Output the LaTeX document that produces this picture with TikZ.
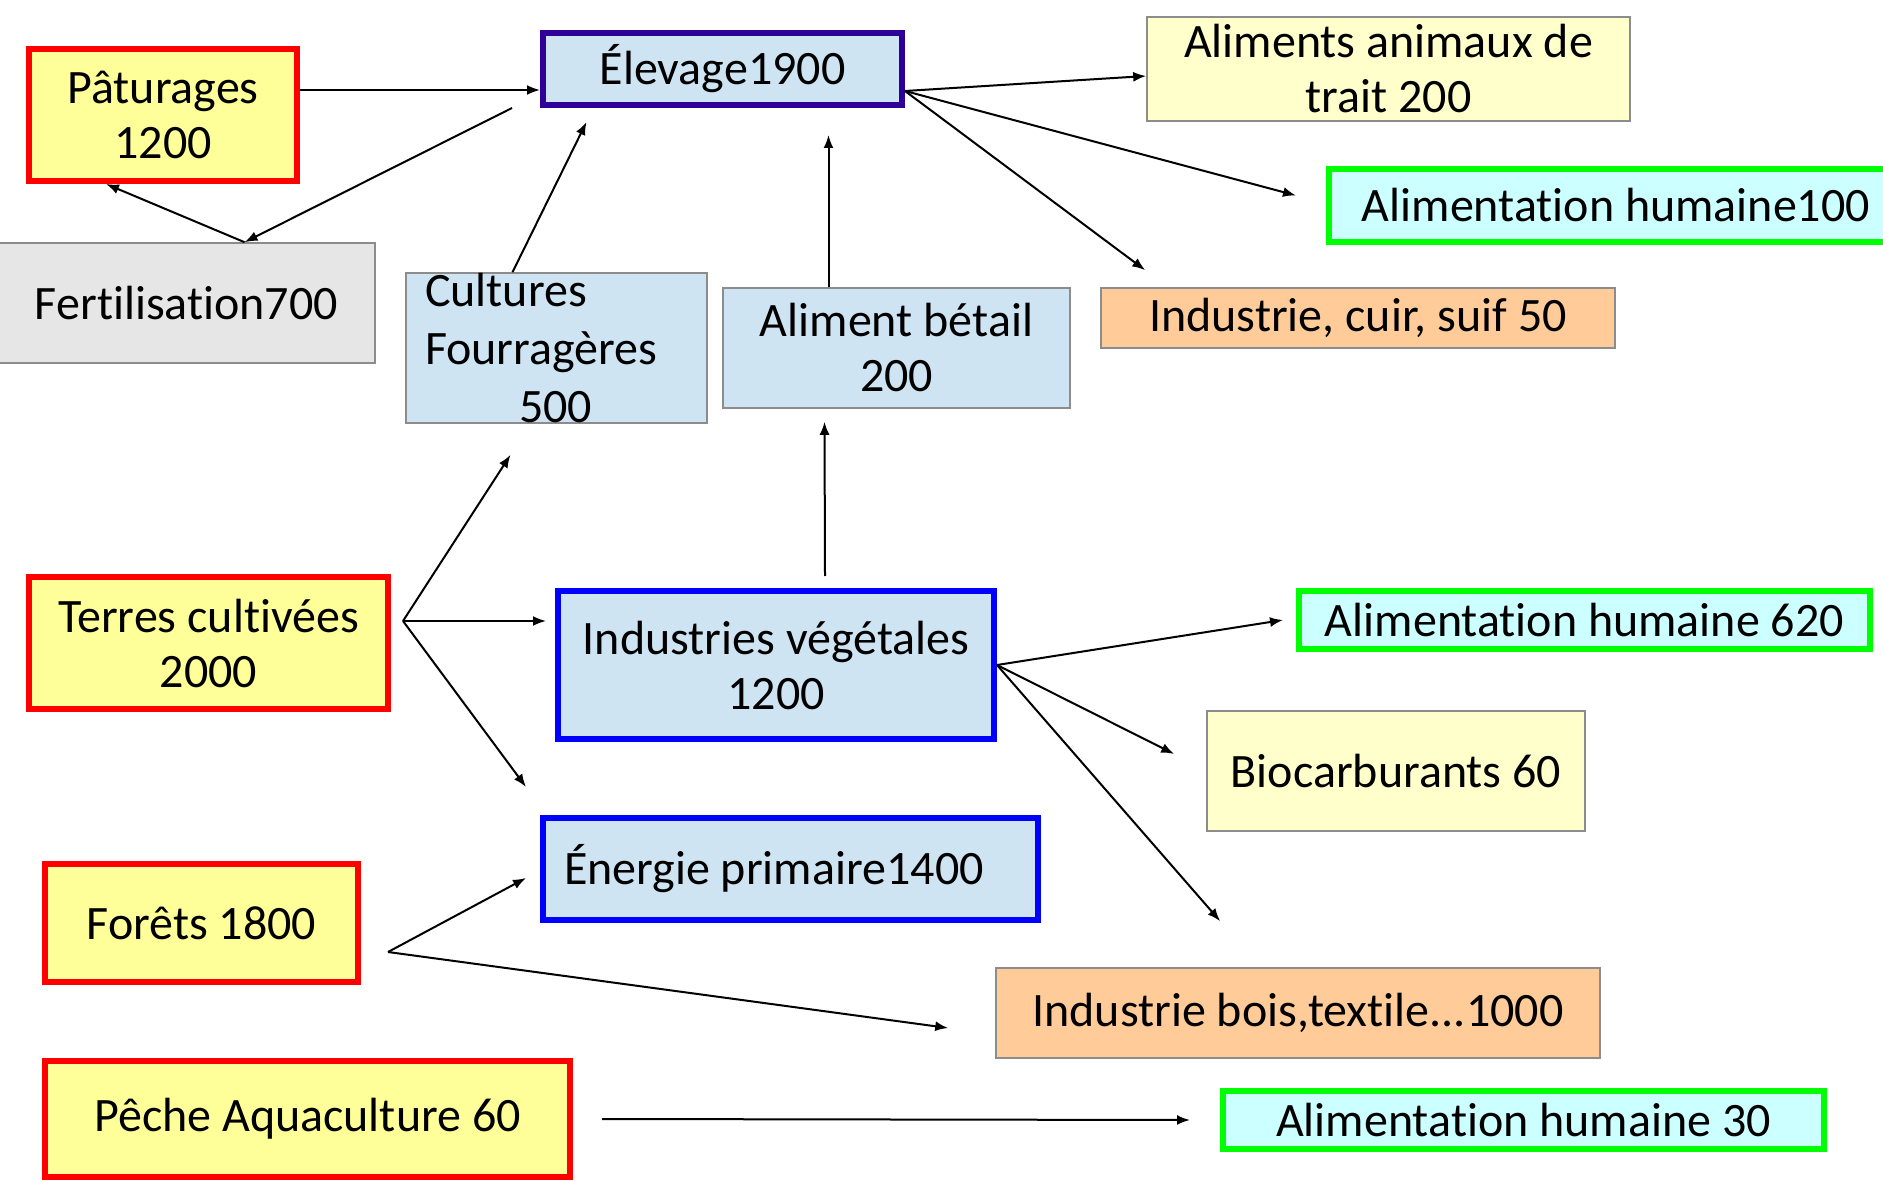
\documentclass[tikz,border=0pt]{standalone}
\usepackage{fontspec}
\setmainfont{Carlito}[Ligatures={NoCommon,NoContextual}]
\usetikzlibrary{arrows.meta}
\definecolor{rouge}{HTML}{FF0000}
\definecolor{jaune}{HTML}{FFFF99}
\definecolor{jaunepale}{HTML}{FFFFCC}
\definecolor{indigo}{HTML}{2E0099}
\definecolor{bleu}{HTML}{0000FF}
\definecolor{bleupale}{HTML}{CFE4F3}
\definecolor{vert}{HTML}{00FF00}
\definecolor{cyanpale}{HTML}{CCFFFF}
\definecolor{orange}{HTML}{FFCC99}
\definecolor{grisbord}{HTML}{8C8C8C}
\definecolor{grisfond}{HTML}{E6E6E6}

\begin{document}
\begin{tikzpicture}[x=0.5pt,y=-0.5pt,>={Latex[length=6.5pt,width=5pt]},
  box/.style={draw, inner sep=0pt, align=center, text=black,
    font=\fontsize{24}{27.5}\selectfont},
  ressource/.style={box, draw=rouge, line width=3pt, fill=jaune},
  filiere/.style={box, draw=bleu, line width=3pt, fill=bleupale},
  usage/.style={box, draw=grisbord, line width=0.8pt},
  humain/.style={box, draw=vert, line width=3pt, fill=cyanpale},
  flux/.style={->, line width=1pt}]
\useasboundingbox (0,0) rectangle (1883,1181);

% ressources
\node [ressource, minimum width=134pt, minimum height=66pt] (pat) at (163,115) {Pâturages\\1200};
\node [ressource, minimum width=179.5pt, minimum height=66pt] (terres) at (208.5,643) {Terres cultivées\\2000};
\node [ressource, minimum width=156.5pt, minimum height=59pt] (forets) at (201.5,923) {Forêts 1800};
\node [ressource, minimum width=262.5pt, minimum height=58pt] (peche) at (307.5,1119) {Pêche Aquaculture 60};

% filieres
\node [filiere, draw=indigo, minimum width=179.5pt, minimum height=36pt] (elev) at (722.5,69) {Élevage1900};
\node [filiere, minimum width=218pt, minimum height=74pt] (indveg) at (776,665) {Industries végétales\\1200};
\node [filiere, align=flush left, text width=226.5pt, inner xsep=10.5pt, minimum height=51pt] (energ) at (790.5,869) {Énergie primaire1400};
\node [usage, fill=grisfond, minimum width=188.5pt, minimum height=60pt] (fert) at (186.5,303) {Fertilisation700};
\node [usage, fill=bleupale, align=flush left, text width=131.5pt, inner xsep=9.5pt, minimum height=75pt,
  font=\fontsize{24}{28.8}\selectfont] (cult) at (556.5,348) {Cultures\\Fourragères\\\hspace*{47pt}500};
\node [usage, fill=bleupale, minimum width=173.5pt, minimum height=60pt] (alim) at (896.5,348) {Aliment bétail\\200};

% usages
\node [usage, fill=jaunepale, minimum width=241.5pt, minimum height=52pt] (anim) at (1388.5,69) {Aliments animaux de\\trait 200};
\node [humain, minimum width=287pt, minimum height=36.5pt] (ah100) at (1616,205.5) {Alimentation humaine100};
\node [usage, fill=orange, minimum width=257pt, minimum height=30pt] (cuir) at (1358,318) {Industrie, cuir, suif 50};
\node [humain, minimum width=285.5pt, minimum height=29pt] (ah620) at (1584.5,620) {Alimentation humaine 620};
\node [usage, fill=jaunepale, minimum width=189pt, minimum height=60pt] (bio) at (1396,771) {Biocarburants 60};
\node [usage, fill=orange, minimum width=302pt, minimum height=45pt] (bois) at (1298,1013) {Industrie bois,textile...1000};
\node [humain, minimum width=300.5pt, minimum height=29pt] (ah30) at (1523.5,1120) {Alimentation humaine 30};

% fourches
\coordinate (fk) at ([xshift=29pt]fert.north);
\coordinate (eo) at ([yshift=-11pt]elev.east);
\coordinate (tf) at ([xshift=6pt,yshift=11pt]terres.east);
\coordinate (ff) at ([xshift=13.5pt,yshift=-14.5pt]forets.east);

\draw [flux] ([yshift=12.5pt]pat.east) -- ([yshift=-10.5pt]elev.west);
\draw [flux] ([xshift=-14pt]elev.south west) -- (fk);
\draw [flux] (fk) -- ([xshift=-28.5pt]pat.south);
\draw [flux] ([xshift=-22pt]cult.north) -- ([xshift=-68pt,yshift=-7pt]elev.south);
\draw [flux] ([xshift=-34pt]alim.north) -- ([xshift=53pt,yshift=-13.5pt]elev.south);
\draw [flux] ([xshift=24.5pt,yshift=6pt]indveg.north) -- ([xshift=-36pt,yshift=-6.5pt]alim.south);

\draw [flux] (eo) -- ([yshift=-3.5pt]anim.west);
\draw [flux] (eo) -- ([xshift=-15pt,yshift=5pt]ah100.west);
\draw [flux] (eo) -- ([xshift=22.5pt,yshift=8.5pt]cuir.north west);

\draw [flux] (tf) -- ([xshift=-4.5pt,yshift=22pt]indveg.west);
\draw [flux] (tf) -- ([xshift=-23pt,yshift=-15.5pt]cult.south);
\draw [flux] (tf) -- ([xshift=-7pt,yshift=14pt]energ.north west);

\draw [flux] (indveg.east) -- ([xshift=-6.5pt]ah620.west);
\draw [flux] (indveg.east) -- ([xshift=-16pt,yshift=8.5pt]bio.west);
\draw [flux] (indveg.east) -- ([xshift=112.5pt,yshift=23pt]bois.north west);

\draw [flux] (ff) -- ([xshift=-7pt,yshift=-4.5pt]energ.west);
\draw [flux] (ff) -- ([xshift=-23.5pt,yshift=-7.5pt]bois.west);

\draw [flux] ([xshift=14.5pt]peche.east) -- ([xshift=-15pt]ah30.west);
\end{tikzpicture}
\end{document}
